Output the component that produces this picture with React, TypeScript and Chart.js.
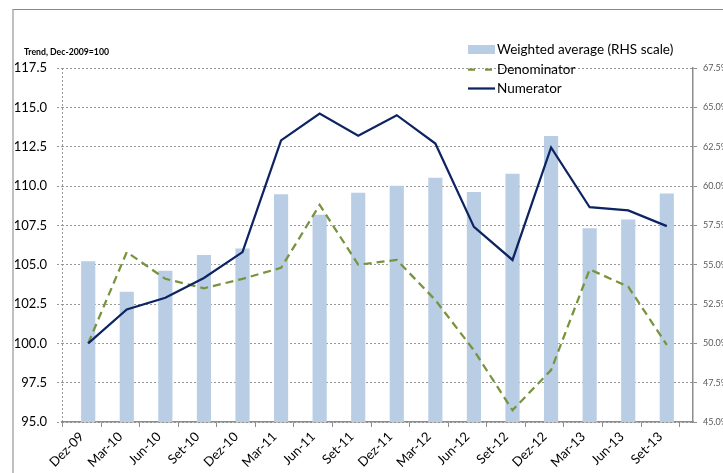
import React, { useEffect, useRef } from "react";
import { Chart, registerables } from "chart.js";

Chart.register(...registerables);

const titleText = "Trend, Dec-2009=100";
const categories = [
  "Dez-09", "Mar-10", "Jun-10", "Set-10", "Dez-10", "Mar-11", "Jun-11", "Set-11",
  "Dez-11", "Mar-12", "Jun-12", "Set-12", "Dez-12", "Mar-13", "Jun-13", "Set-13",
];
const weightedAverage = [55.2, 53.25, 54.6, 55.6, 56.0, 59.45, 58.15, 59.55, 60.0, 60.5, 59.6, 60.75, 63.15, 57.3, 57.85, 59.5];
const denominator = [100.0, 105.8, 104.1, 103.5, 104.1, 104.8, 108.8, 105.0, 105.3, 102.75, 99.55, 95.75, 98.3, 104.7, 103.6, 99.9];
const numerator = [100.0, 102.15, 102.9, 104.15, 105.8, 112.9, 114.6, 113.2, 114.5, 112.7, 107.4, 105.3, 112.45, 108.65, 108.45, 107.45];
const seriesLabels = ["Weighted average (RHS scale)", "Denominator", "Numerator"];
const leftAxis = { min: 95, max: 117.5, step: 2.5 };
const rightAxis = { min: 45, max: 67.5, step: 2.5 };

const BAR_COLOR = "#B9CDE5";
const DEN_COLOR = "#77933C";
const NUM_COLOR = "#0D2463";
const GRID = "#999999";
const AXIS = "#8c8c8c";
const FONT = "Lato, 'Open Sans', sans-serif";
const BAND = 0.168; // half bar band, in category units

const overlay = {
  id: "overlay",
  afterDraw(chart: any) {
    const ctx = chart.ctx as CanvasRenderingContext2D;
    ctx.save();
    ctx.fillStyle = "#000";
    ctx.textBaseline = "middle";
    ctx.textAlign = "left";
    ctx.font = `bold 8.7px ${FONT}`;
    ctx.fillText(titleText, 24, 52);

    const lx = 468;
    const rows = [49.5, 69.5, 88.5];
    ctx.fillStyle = BAR_COLOR;
    ctx.fillRect(lx, rows[0] - 4.5, 27, 9);
    ctx.strokeStyle = DEN_COLOR;
    ctx.lineWidth = 2.25;
    ctx.setLineDash([7, 10]);
    ctx.beginPath();
    ctx.moveTo(lx, rows[1]);
    ctx.lineTo(lx + 27, rows[1]);
    ctx.stroke();
    ctx.setLineDash([]);
    ctx.strokeStyle = NUM_COLOR;
    ctx.beginPath();
    ctx.moveTo(lx, rows[2]);
    ctx.lineTo(lx + 27, rows[2]);
    ctx.stroke();
    ctx.fillStyle = "#000";
    ctx.font = `13.5px ${FONT}`;
    seriesLabels.forEach((t, i) => ctx.fillText(t, lx + 29, rows[i]));
    ctx.restore();
  },
};

export default function App() {
  const ref = useRef<HTMLCanvasElement | null>(null);
  useEffect(() => {
    if (!ref.current) return;
    const chart = new Chart(ref.current, {
      type: "bar",
      data: {
        datasets: [
          {
            type: "line",
            label: seriesLabels[2],
            data: numerator.map((v, i) => ({ x: i, y: v })),
            borderColor: NUM_COLOR,
            borderWidth: 2.25,
            pointRadius: 0,
            yAxisID: "y",
            order: 1,
          },
          {
            type: "line",
            label: seriesLabels[1],
            data: denominator.map((v, i) => ({ x: i, y: v })),
            borderColor: DEN_COLOR,
            borderWidth: 2.25,
            borderDash: [8, 5],
            pointRadius: 0,
            yAxisID: "y",
            order: 2,
          },
          {
            type: "bar",
            label: seriesLabels[0],
            data: weightedAverage.map((v, i) => ({ x: i, y: v })),
            backgroundColor: BAR_COLOR,
            barThickness: 13.5,
            yAxisID: "y1",
            order: 3,
          },
        ],
      },
      options: {
        animation: false,
        responsive: true,
        maintainAspectRatio: false,
        layout: { padding: { top: 68, left: 0, right: 0, bottom: 0 } },
        plugins: { legend: { display: false }, title: { display: false }, tooltip: { enabled: false } },
        scales: {
          x: {
            type: "linear",
            min: -BAND,
            max: categories.length - 1 + BAND,
            afterBuildTicks: (scale: any) => {
              scale.ticks = categories.map((_, i) => ({ value: i - BAND }));
            },
            afterFit: (scale: any) => {
              scale.height = 108;
            },
            ticks: {
              autoSkip: false,
              minRotation: 45,
              maxRotation: 45,
              padding: 2,
              color: "#000",
              font: { family: FONT, size: 13 },
              callback: (_v: any, i: number) => categories[i],
            },
            grid: {
              drawOnChartArea: true,
              color: (c: any) => (c.index === 0 ? GRID : "rgba(0,0,0,0)"),
              tickColor: AXIS,
              tickLength: 5,
              lineWidth: 1,
            },
            border: { display: true, color: AXIS, width: 1.5, dash: [2, 2] },
          },
          y: {
            position: "left",
            min: leftAxis.min,
            max: leftAxis.max,
            afterFit: (scale: any) => {
              scale.width = 62;
            },
            ticks: {
              stepSize: leftAxis.step,
              padding: 10,
              color: "#000",
              font: { family: FONT, size: 13 },
              callback: (v: any) => Number(v).toFixed(1),
            },
            grid: { color: GRID, tickColor: GRID, tickLength: 5, lineWidth: 1, tickBorderDash: [2, 2] },
            border: { display: false, dash: [2, 2] },
          },
          y1: {
            position: "right",
            min: rightAxis.min,
            max: rightAxis.max,
            afterFit: (scale: any) => {
              scale.width = 77;
            },
            ticks: {
              stepSize: rightAxis.step,
              padding: 6,
              color: "#595959",
              font: { family: FONT, size: 9 },
              callback: (v: any) => Number(v).toFixed(1) + "%",
            },
            grid: { drawOnChartArea: false, tickColor: AXIS, tickLength: 4 },
            border: { display: true, color: AXIS, width: 1.5 },
          },
        },
      },
      plugins: [overlay],
    } as any);
    return () => chart.destroy();
  }, []);

  return (
    <div style={{ position: "fixed", left: 0, top: 0, width: 723, height: 473, overflow: "hidden", background: "#fff" }}>
      <div
        style={{
          position: "absolute",
          left: 12,
          top: 9,
          width: 900,
          height: 700,
          borderLeft: "2px solid #c0c0c0",
          borderTop: "1px solid #888",
        }}
      />
      <div style={{ position: "absolute", left: 0, top: 0, width: 770, height: 530 }}>
        <canvas ref={ref} />
      </div>
    </div>
  );
}
